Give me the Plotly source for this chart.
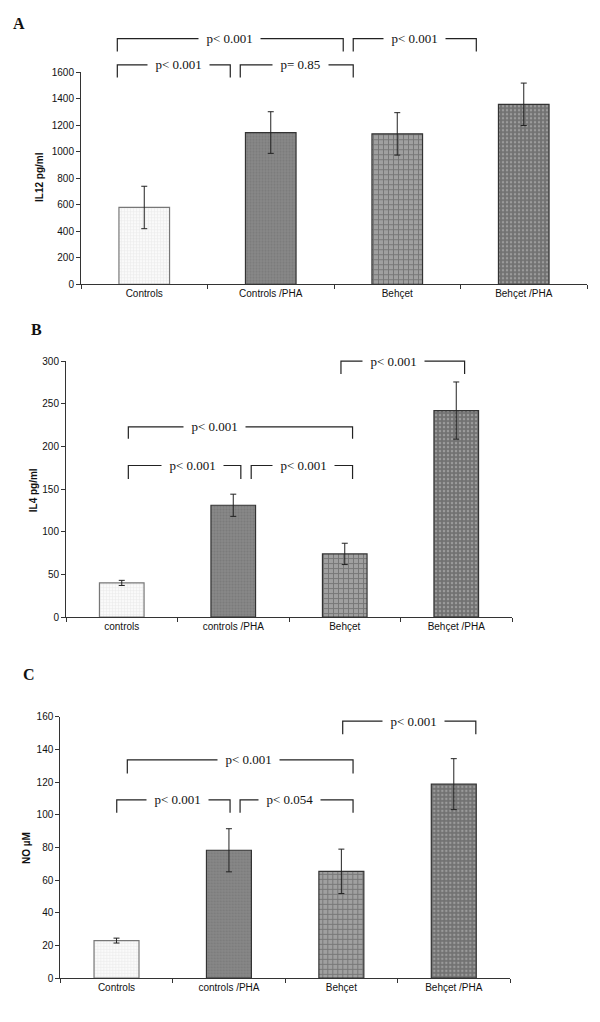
import plotly.graph_objects as go

W, H = 600, 1022

cats_A = ["Controls", "Controls /PHA", "Behçet", "Behçet /PHA"]
vals_A = [580, 1145, 1135, 1358]
err_A = [160, 157, 160, 160]

cats_B = ["controls", "controls /PHA", "Behçet", "Behçet /PHA"]
vals_B = [40, 131, 74, 242]
err_B = [3, 13, 12.5, 33.5]

cats_C = ["Controls", "controls /PHA", "Behçet", "Behçet /PHA"]
vals_C = [23, 78.3, 65.4, 118.8]
err_C = [1.5, 13.2, 13.6, 15.6]

ytitles = ["IL12 pg/ml", "IL4 pg/ml", "NO µM"]
letters = ["A", "B", "C"]

# brackets: (x0, x1, y_line, y_leg, label, label_x)
brk_A = [(-0.213, 1.573, 1853, 1756, "p< 0.001", 0.67),
         (1.652, 2.625, 1853, 1756, "p< 0.001", 2.135),
         (-0.213, 0.68, 1655, 1560, "p< 0.001", 0.27),
         (0.759, 1.652, 1655, 1560, "p= 0.85", 1.235)]
brk_B = [(1.966, 3.075, 300, 285, "p< 0.001", 2.435),
         (0.059, 2.07, 223, 209, "p< 0.001", 0.83),
         (0.059, 1.068, 177.6, 161.7, "p< 0.001", 0.63),
         (1.161, 2.07, 177.6, 161.7, "p< 0.001", 1.63)]
brk_C = [(2.012, 3.196, 157.4, 149.3, "p< 0.001", 2.64),
         (0.096, 2.104, 133.6, 125.3, "p< 0.001", 1.17),
         (0.002, 1.01, 109.2, 101.3, "p< 0.001", 0.54),
         (1.099, 2.104, 109.2, 101.3, "p< 0.054", 1.54)]

# layout geometry in pixels
panels = [
    dict(x0=81, x1=587, ybot=281.7, ytop=67, ymax=1600, dtick=200,
         letter=(19, 18), ytit=(40, 173), cats=cats_A, vals=vals_A, err=err_A, brk=brk_A),
    dict(x0=66, x1=512, ybot=618.3, ytop=359.3, ymax=300, dtick=50,
         letter=(36, 327), ytit=(33, 490), cats=cats_B, vals=vals_B, err=err_B, brk=brk_B),
    dict(x0=60.3, x1=510, ybot=983.7, ytop=719.3, ymax=160, dtick=20,
         letter=(29, 676), ytit=(27, 852), cats=cats_C, vals=vals_C, err=err_C, brk=brk_C),
]

bar_styles = [
    dict(color="#f4f4f4", pattern=dict(shape="+", fgcolor="#d6d6d6", bgcolor="#fafafa", size=3, solidity=0.3), line="#777"),
    dict(color="#7e7e7e", pattern=dict(shape=".", fgcolor="#6c6c6c", bgcolor="#888888", size=3, solidity=0.4), line="#333"),
    dict(color="#8a8a8a", pattern=dict(shape="+", fgcolor="#4e4e4e", bgcolor="#a0a0a0", size=5, solidity=0.35), line="#333"),
    dict(color="#7a7a7a", pattern=dict(shape=".", fgcolor="#c4c4c4", bgcolor="#727272", size=4, solidity=0.3), line="#333"),
]

fig = go.Figure()
shapes = []
annotations = []

for i, p in enumerate(panels):
    sfx = "" if i == 0 else str(i + 1)
    xa, ya = "x" + sfx, "y" + sfx
    dx = [p["x0"] / W, p["x1"] / W]
    dy = [1 - p["ybot"] / H, 1 - p["ytop"] / H]
    for j, c in enumerate(p["cats"]):
        st = bar_styles[j]
        fig.add_trace(go.Bar(
            x=[c], y=[p["vals"][j]], width=0.4,
            marker=dict(color=st["color"], pattern=st["pattern"],
                        line=dict(color=st["line"], width=1.2)),
            error_y=dict(type="data", array=[p["err"][j]], color="#222", thickness=1, width=3),
            xaxis=xa, yaxis=ya, showlegend=False, hoverinfo="skip"))
    fig.update_layout(**{
        ("xaxis" + sfx): dict(domain=dx, anchor=ya, type="category", range=[-0.5, 3.5],
                              categoryorder="array", categoryarray=p["cats"],
                              showline=True, linecolor="#333", linewidth=1,
                              ticks="outside", tickson="boundaries", ticklen=4, tickcolor="#333",
                              tickfont=dict(family="Liberation Sans, Arial", size=10, color="#111"),
                              showgrid=False, zeroline=False, fixedrange=True),
        ("yaxis" + sfx): dict(domain=dy, anchor=xa, range=[0, p["ymax"]], dtick=p["dtick"],
                              showline=True, linecolor="#333", linewidth=1,
                              ticks="outside", ticklen=4, tickcolor="#333",
                              tickfont=dict(family="Liberation Sans, Arial", size=10, color="#111"),
                              showgrid=False, zeroline=False, fixedrange=True),
    })

    def ypaper(v, p=p, dy=dy):
        return dy[0] + v / p["ymax"] * (dy[1] - dy[0])

    for (bx0, bx1, yl, yg, lab, lx) in p["brk"]:
        yl_p, yg_p = ypaper(yl), ypaper(yg)
        shapes.append(dict(type="path", xref=xa, yref="paper",
                           path=f"M {bx0},{yg_p} L {bx0},{yl_p} L {bx1},{yl_p} L {bx1},{yg_p}",
                           line=dict(color="#222", width=1.2)))
        annotations.append(dict(x=lx, y=yl_p, xref=xa, yref="paper",
                                text="&nbsp;&nbsp;" + lab + "&nbsp;&nbsp;", showarrow=False,
                                font=dict(family="Liberation Serif, Times New Roman", size=13, color="#111"),
                                bgcolor="white", borderpad=1, xanchor="center", yanchor="middle"))

    annotations.append(dict(x=p["letter"][0] / W, y=1 - p["letter"][1] / H, xref="paper", yref="paper",
                            text="<b>" + letters[i] + "</b>", showarrow=False,
                            font=dict(family="Liberation Serif, Times New Roman", size=16, color="#111"),
                            xanchor="center", yanchor="middle"))
    annotations.append(dict(x=p["ytit"][0] / W, y=1 - p["ytit"][1] / H, xref="paper", yref="paper",
                            text="<b>" + ytitles[i] + "</b>", showarrow=False, textangle=-90,
                            font=dict(family="Liberation Sans, Arial", size=10, color="#111"),
                            xanchor="center", yanchor="middle"))

fig.update_layout(width=W, height=H, margin=dict(l=0, r=0, t=0, b=0),
                  paper_bgcolor="white", plot_bgcolor="white",
                  shapes=shapes, annotations=annotations, bargap=0.6)

fig.write_html("out.html", config={"displayModeBar": False},
               post_script="document.body.style.margin='0';document.body.style.padding='0';")
